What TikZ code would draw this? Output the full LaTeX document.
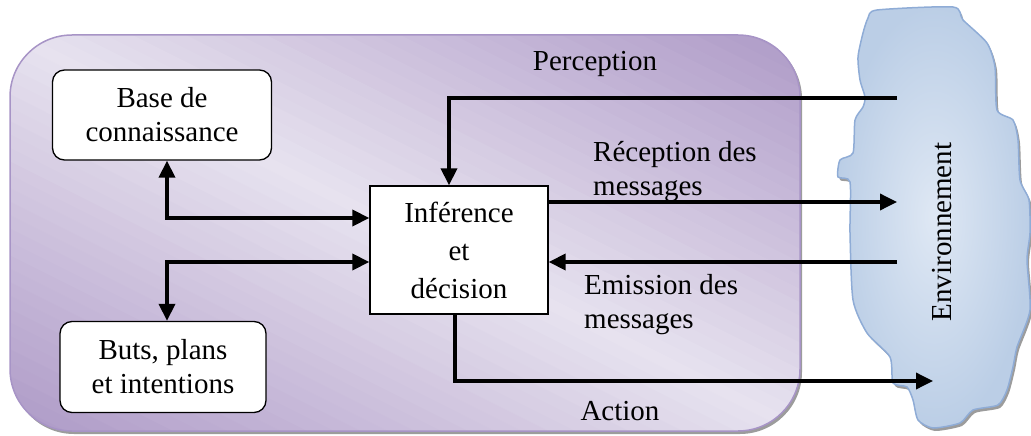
\documentclass[tikz,border=0pt]{standalone}
\usepackage{fontspec}
\setmainfont{Liberation Serif}
\usetikzlibrary{arrows.meta}
\definecolor{agentdark}{HTML}{AE9AC7}
\definecolor{agentlight}{HTML}{E7E2EF}
\definecolor{agentedge}{HTML}{A794C6}
\definecolor{envlight}{HTML}{DFE8F4}
\definecolor{envdark}{HTML}{BBCEE6}
\definecolor{envedge}{HTML}{8FACD6}
\definecolor{shadowgrey}{HTML}{9C9C9C}
\tikzset{
  txt/.style={font=\fontsize{29}{34}\selectfont, inner sep=0pt},
  module/.style={draw=black, line width=1.3pt, fill=white, rounded corners=12pt,
    align=center, font=\fontsize{29}{34}\selectfont},
  core/.style={draw=black, line width=1.3pt, fill=white, align=center,
    font=\fontsize{29}{38}\selectfont},
  flow/.style={line width=3.5pt, -{Triangle[length=17pt,width=16pt]}},
  twoway/.style={line width=3.5pt, {Triangle[length=17pt,width=16pt]}-{Triangle[length=17pt,width=16pt]}},
}
\begin{document}
\begin{tikzpicture}[x=1pt,y=-1pt]
\useasboundingbox (0,0) rectangle (1031,436);

% agent frame: shadow, diagonal gradient fill (stripes), border
\fill[shadowgrey, rounded corners=62pt] (12,37) rectangle (802,434);
\begin{scope}
  \clip[rounded corners=62pt] (10,35) rectangle (800,431);
  \begin{scope}[shift={(405,233)}, rotate=-26.6]
    \foreach \t in {-372,-360,...,372}{
      \pgfmathtruncatemacro{\p}{min(100,abs(\t)/3.5)}
      \fill[agentdark!\p!agentlight] (-700,\t-7) rectangle (700,\t+7);
    }
  \end{scope}
\end{scope}
\draw[agentedge, line width=1.5pt, rounded corners=62pt] (10,35) rectangle (800,431);

% environment blob
\def\envoutline{(868,18) (877,10) (953,7) (963,20) (987,43) (995,67) (997,110)
  (1013,120) (1018,140) (1020,180) (1029,200) (1030,233) (1027,260) (1030,310)
  (1017,347) (1013,367) (1007,390) (998,405) (973,410) (960,423) (933,428)
  (918,420) (913,400) (907,387) (893,383) (890,357) (867,333) (853,300)
  (850,233) (850,182) (838,177) (840,160) (853,153) (855,120) (863,107)
  (865,97) (860,80) (858,57) (863,33)}
\fill[shadowgrey, xshift=2pt, yshift=-3pt] plot[smooth cycle, tension=0.4] coordinates {\envoutline};
\shade[inner color=envlight, outer color=envdark, draw=envedge, line width=1.5pt]
  plot[smooth cycle, tension=0.4] coordinates {\envoutline};
\node[txt, rotate=90] (env) at (942,232) {Environnement};

% modules
\node[module, minimum width=219pt, minimum height=90pt] (base) at (162,115) {Base de\\connaissance};
\node[module, minimum width=206pt, minimum height=91pt] (buts) at (163,367) {Buts, plans\\et intentions};
\node[core, minimum width=178pt, minimum height=128pt] (inf) at (459,250) {Inférence\\et\\décision};

% anchor points for the links
\coordinate (kb) at (167,218);
\coordinate (gp) at (167,262);
\coordinate (perc) at (897,98);
\coordinate (percx) at (449,98);
\coordinate (recv) at (897,202);
\coordinate (emit) at (897,262);
\coordinate (actx) at (455,381);
\coordinate (act) at (933,381);

% links
\draw[twoway] (base.south -| kb) -- (kb) -- (inf.west |- kb);
\draw[twoway] (buts.north -| gp) -- (gp) -- (inf.west |- gp);
\draw[flow] (perc) -- (percx) -- (inf.north -| percx);
\draw[flow] (inf.east |- recv) -- (recv);
\draw[flow] (emit) -- (inf.east |- emit);
\draw[flow] (inf.south -| actx) -- (actx) -- (act);

% labels
\node[txt] (lperc) at (595,64) {Perception};
\node[txt, anchor=west, align=left] (lrecv) at (593,172) {Réception des\\messages};
\node[txt, anchor=west, align=left] (lemit) at (584,305) {Emission des\\messages};
\node[txt] (lact) at (620,411) {Action};
\end{tikzpicture}
\end{document}
